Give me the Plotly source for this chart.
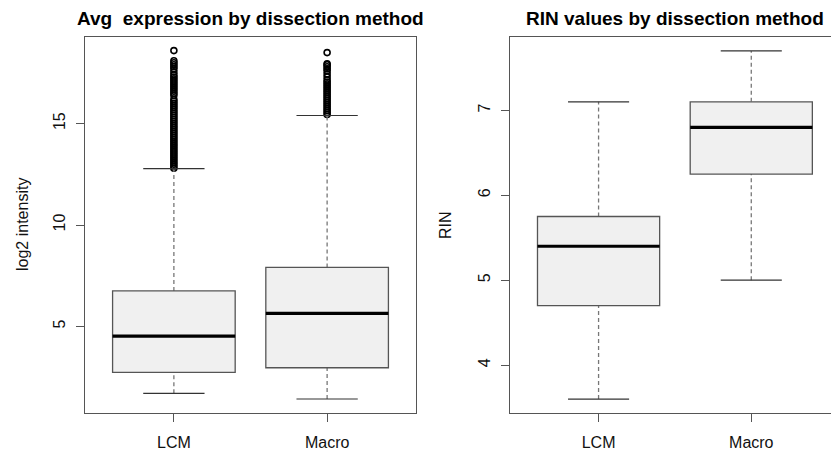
import plotly.graph_objects as go

# ---- data -------------------------------------------------------------
groups = ["LCM", "Macro"]

# Avg expression (log2 intensity) box statistics per group
expr_lower = [1.70, 1.42]
expr_q1 = [2.73, 2.96]
expr_median = [4.52, 5.64]
expr_q3 = [6.75, 7.91]
expr_upper = [12.78, 15.40]

expr_outliers_lcm = [
    12.8, 12.9, 13.0, 13.1, 13.2, 13.3, 13.4, 13.5, 13.6, 13.7, 13.8, 13.9,
    14.0, 14.1, 14.2, 14.3, 14.4, 14.5, 14.6, 14.7, 14.8, 14.9, 15.0, 15.1,
    15.2, 15.3, 15.4, 15.5, 15.6, 15.7, 15.8, 15.9, 16.0, 16.1, 16.2, 16.4,
    16.5, 16.6, 16.7, 16.8, 16.9, 17.0, 17.1, 17.2, 17.3, 17.4, 17.55,
    17.7, 17.8, 17.9, 18.0, 18.1, 18.6,
]
expr_outliers_macro = [
    15.45, 15.55, 15.65, 15.75, 15.85, 15.95, 16.05, 16.15, 16.25, 16.35,
    16.45, 16.55, 16.65, 16.75, 16.85, 16.95, 17.05, 17.15, 17.3, 17.45,
    17.6, 17.7, 17.8, 17.9, 17.95, 18.5,
]

# RIN box statistics per group
rin_lower = [3.60, 5.00]
rin_q1 = [4.70, 6.25]
rin_median = [5.40, 6.80]
rin_q3 = [5.75, 7.10]
rin_upper = [7.10, 7.70]

# ---- styling ----------------------------------------------------------
FONT = "Liberation Sans, Arial, sans-serif"
BOX_FILL = "#f0f0f0"
BOX_LINE = "#555555"
FRAME = "#555555"
BOX_HALF = 0.4
CAP_HALF = 0.2
W, H = 831, 453

fig = go.Figure()
shapes = []


def add_boxes(xref, yref, lower, q1, med, q3, upper):
    for i in range(len(groups)):
        x = i + 1
        # dashed whiskers
        shapes.append(dict(type="line", xref=xref, yref=yref, x0=x, x1=x,
                           y0=q3[i], y1=upper[i],
                           line=dict(color="#777777", width=1.3, dash="4px,3px")))
        shapes.append(dict(type="line", xref=xref, yref=yref, x0=x, x1=x,
                           y0=lower[i], y1=q1[i],
                           line=dict(color="#777777", width=1.3, dash="4px,3px")))
        # caps
        for v in (lower[i], upper[i]):
            shapes.append(dict(type="line", xref=xref, yref=yref,
                               x0=x - CAP_HALF, x1=x + CAP_HALF, y0=v, y1=v,
                               line=dict(color="#333333", width=1.2)))
        # box
        shapes.append(dict(type="rect", xref=xref, yref=yref,
                           x0=x - BOX_HALF, x1=x + BOX_HALF, y0=q1[i], y1=q3[i],
                           fillcolor=BOX_FILL, line=dict(color=BOX_LINE, width=1.3)))
        # median
        shapes.append(dict(type="line", xref=xref, yref=yref,
                           x0=x - BOX_HALF, x1=x + BOX_HALF, y0=med[i], y1=med[i],
                           line=dict(color="black", width=3.2)))


add_boxes("x", "y", expr_lower, expr_q1, expr_median, expr_q3, expr_upper)
add_boxes("x2", "y2", rin_lower, rin_q1, rin_median, rin_q3, rin_upper)

outlier_marker = dict(symbol="circle-open", size=6, color="black",
                      line=dict(width=1.6, color="black"))
fig.add_trace(go.Scatter(x=[1] * len(expr_outliers_lcm), y=expr_outliers_lcm,
                         mode="markers", marker=outlier_marker,
                         xaxis="x", yaxis="y", showlegend=False))
fig.add_trace(go.Scatter(x=[2] * len(expr_outliers_macro), y=expr_outliers_macro,
                         mode="markers", marker=outlier_marker,
                         xaxis="x", yaxis="y", showlegend=False))

y_bottom = 1 - 413 / H
y_top = 1 - 37 / H

common_x = dict(tickvals=[1, 2], ticktext=groups, ticks="outside", ticklen=8,
                tickcolor=FRAME, showline=True, linecolor=FRAME, linewidth=1,
                showgrid=False, zeroline=False,
                tickfont=dict(family=FONT, size=16, color="#111111"))
common_y = dict(ticks="outside", ticklen=8, tickcolor=FRAME, tickangle=-90,
                showline=True, linecolor=FRAME, linewidth=1, showgrid=False,
                zeroline=False, tickfont=dict(family=FONT, size=16, color="#111111"))

fig.update_layout(
    width=W, height=H,
    margin=dict(l=0, r=0, t=0, b=0),
    paper_bgcolor="white", plot_bgcolor="white",
    showlegend=False,
    shapes=shapes,
    xaxis=dict(domain=[85 / W, 416 / W], range=[0.42, 2.58], anchor="y",
               mirror=True, ticklabelstandoff=7, **common_x),
    yaxis=dict(domain=[y_bottom, y_top], range=[0.73, 19.27], anchor="x",
               tickvals=[5, 10, 15], mirror=True, ticklabelstandoff=5, **common_y),
    xaxis2=dict(domain=[510 / W, 1.0], range=[0.42, 0.42 + (W - 510) / 152.7],
                anchor="y2", mirror=True, ticklabelstandoff=7, **common_x),
    yaxis2=dict(domain=[y_bottom, y_top], range=[3.436, 7.864], anchor="x2",
                tickvals=[4, 5, 6, 7], mirror=False, ticklabelstandoff=5, **common_y),
    annotations=[
        dict(text="<b>Avg  expression by dissection method</b>", xref="paper",
             yref="paper", x=(85 + 416) / 2 / W, y=1 - 19 / H, showarrow=False,
             xanchor="center", yanchor="middle",
             font=dict(family=FONT, size=19, color="black")),
        dict(text="<b>RIN values by dissection method</b>", xref="paper",
             yref="paper", x=675 / W, y=1 - 19 / H, showarrow=False,
             xanchor="center", yanchor="middle",
             font=dict(family=FONT, size=19, color="black")),
        dict(text="log2 intensity", xref="paper", yref="paper", x=22 / W,
             y=1 - 225 / H, textangle=-90, showarrow=False,
             xanchor="center", yanchor="middle",
             font=dict(family=FONT, size=16, color="#111111")),
        dict(text="RIN", xref="paper", yref="paper", x=445 / W,
             y=1 - 225 / H, textangle=-90, showarrow=False,
             xanchor="center", yanchor="middle",
             font=dict(family=FONT, size=16, color="#111111")),
    ],
)

fig.write_html("out.html")
